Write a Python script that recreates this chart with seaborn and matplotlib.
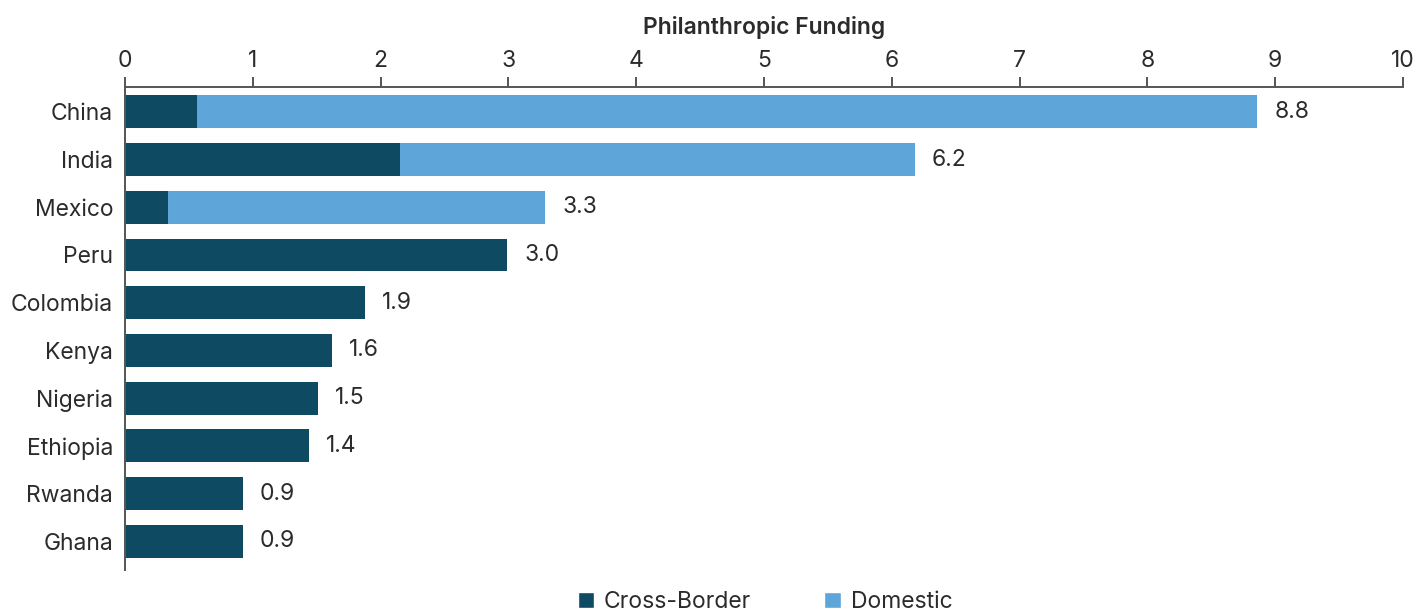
import matplotlib
matplotlib.use("Agg")
import matplotlib.pyplot as plt
import seaborn as sns
import pandas as pd
from matplotlib.patches import Patch

countries = ["China", "India", "Mexico", "Peru", "Colombia", "Kenya",
             "Nigeria", "Ethiopia", "Rwanda", "Ghana"]
cross_border = [0.56, 2.15, 0.34, 2.99, 1.88, 1.62, 1.51, 1.44, 0.92, 0.92]
domestic = [8.30, 4.03, 2.95, 0, 0, 0, 0, 0, 0, 0]
value_labels = ["8.8", "6.2", "3.3", "3.0", "1.9", "1.6", "1.5", "1.4", "0.9", "0.9"]
xticks = [0, 1, 2, 3, 4, 5, 6, 7, 8, 9, 10]

DARK = "#0F4A63"
LIGHT = "#5EA5D9"
TXT = "#2B2B2B"
AX = "#555555"
FS = 16.5

sns.set_theme(style="white")
plt.rcParams["font.family"] = ["Inter", "DejaVu Sans"]

df = pd.DataFrame({"country": countries, "cross": cross_border, "dom": domestic})
df["total"] = df["cross"] + df["dom"]

fig = plt.figure(figsize=(14.27, 6.15), dpi=100)
ax = fig.add_axes([125/1427, 1-570/615, (1403-125)/1427, (570-87)/615])

sns.barplot(data=df, y="country", x="total", orient="h", color=LIGHT,
            width=0.69, saturation=1, ax=ax, order=countries, linewidth=0)
sns.barplot(data=df, y="country", x="cross", orient="h", color=DARK,
            width=0.69, saturation=1, ax=ax, order=countries, linewidth=0)

for i, (t, lab) in enumerate(zip(df["total"], value_labels)):
    ax.annotate(lab, (t, i), xytext=(17, 0), textcoords="offset pixels",
                va="center", ha="left", fontsize=FS, color=TXT)

ax.set_xlim(0, 10)
ax.set_ylim(9.6, -0.52)
ax.set_xticks(xticks)
ax.set_xticklabels([str(v) for v in xticks])
ax.xaxis.tick_top()
ax.xaxis.set_label_position("top")
ax.set_xlabel("Philanthropic Funding", fontsize=FS, fontweight="semibold", color=TXT, labelpad=11)
ax.set_ylabel("")
ax.tick_params(axis="x", which="both", top=True, bottom=False, length=7, width=1.4,
               color=AX, labelsize=FS, labelcolor=TXT, pad=4, direction="out")
ax.tick_params(axis="y", left=False, length=0, labelsize=FS, labelcolor=TXT, pad=8.5)

for s in ["right", "bottom"]:
    ax.spines[s].set_visible(False)
for s in ["top", "left"]:
    ax.spines[s].set_color(AX)
    ax.spines[s].set_linewidth(1.4)

handles = [Patch(facecolor=DARK, label="Cross-Border"),
           Patch(facecolor=LIGHT, label="Domestic")]
fig.legend(handles=handles, loc="center", bbox_to_anchor=(765/1427, 1-602/615),
           ncol=2, frameon=False, fontsize=FS, handlelength=0.7, handleheight=0.7,
           handletextpad=0.45, columnspacing=3.2, labelcolor=TXT, borderpad=0)

fig.savefig("out.png", dpi=100)
